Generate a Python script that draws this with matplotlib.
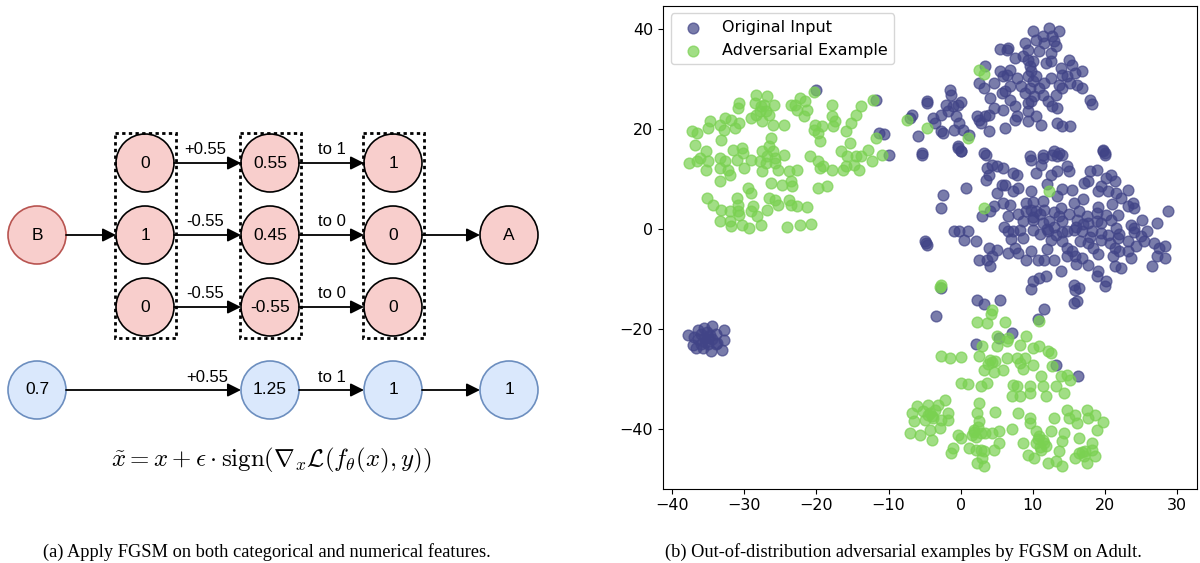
"""FGSM diagram (a) and t-SNE scatter of original vs adversarial samples (b)."""

import numpy as np
import matplotlib
matplotlib.use('Agg')
import matplotlib.pyplot as plt
from matplotlib.patches import Circle, Rectangle

plt.rcParams['mathtext.fontset'] = 'cm'

#####################################################################################
# Diagram values

cat_in = ['0', '1', '0']
cat_step = ['+0.55', '-0.55', '-0.55']
cat_mid = ['0.55', '0.45', '-0.55']
cat_round = ['to 1', 'to 0', 'to 0']
cat_out = ['1', '0', '0']
num_row = ['0.7', '1.25', '1', '1']
num_step = '+0.55'
num_round = 'to 1'

#####################################################################################
# Scatter values (t-SNE coordinates)

orig_top = [
    (-6.8, 22.9), (-7.0, 22.3), (-4.7, 25.6), (-4.6, 25.3), (-5.9, 18.6), (-3.8, 22.3), (-3.6, 21.3),
    (-2.7, 22.9), (-2.5, 19.3), (-2.7, 19.6), (-1.5, 27.9), (-1.3, 26.9), (-2.0, 24.9), (-1.8, 23.6),
    (-1.1, 24.6), (-0.4, 24.9), (0.0, 25.4), (-0.6, 22.6), (-0.2, 21.3), (-0.9, 19.9), (0.3, 19.9),
    (-0.4, 16.6), (0.0, 15.6), (1.2, 18.9), (-5.4, 15.3), (2.5, 29.3), (3.2, 28.3), (2.3, 22.6),
    (2.8, 21.3), (2.5, 21.9), (3.9, 19.6), (3.4, 32.6), (4.6, 29.3), (4.1, 26.3), (4.6, 24.3),
    (3.9, 22.9), (3.4, 22.6), (6.2, 20.3), (7.5, 21.9), (7.8, 22.6), (5.5, 36.1), (6.6, 36.3),
    (6.4, 35.9), (5.5, 31.6), (5.9, 30.6), (6.4, 30.9), (6.8, 31.9), (5.7, 27.3), (6.2, 27.6),
    (6.8, 28.6), (6.8, 25.9), (7.5, 24.6), (5.9, 23.9), (7.8, 30.3), (7.5, 34.3), (8.7, 34.6),
    (8.9, 37.3), (9.3, 35.9), (10.0, 39.6), (10.5, 37.9), (11.4, 38.6), (11.6, 37.3), (12.3, 40.3),
    (12.7, 38.6), (13.6, 39.6), (13.2, 36.6), (12.5, 35.3), (12.9, 37.6), (10.9, 35.6), (9.6, 32.6),
    (9.8, 31.6), (9.3, 30.6), (10.0, 29.6), (10.5, 30.6), (8.4, 28.6), (8.9, 27.3), (9.6, 28.3),
    (10.9, 28.3), (11.6, 29.3), (11.4, 26.9), (12.1, 25.6), (12.7, 24.6), (13.4, 24.3), (13.2, 26.9),
    (12.5, 30.3), (13.6, 28.9), (14.1, 28.3), (13.9, 32.3), (15.0, 33.9), (15.5, 32.9), (15.9, 31.3),
    (16.8, 31.6), (14.8, 30.6), (15.2, 29.3), (16.1, 28.9), (16.8, 28.3), (14.1, 30.9), (11.8, 33.3),
    (12.5, 33.6), (9.3, 25.3), (9.8, 25.6), (10.2, 26.6), (9.3, 23.6), (10.5, 22.6), (11.2, 20.9),
    (9.3, 21.6), (13.4, 21.3), (14.1, 20.6), (15.2, 20.6), (17.9, 25.9), (18.2, 25.1), (10.0, 33.6),
    (9.3, 33.9), (-20.1, 27.8), (-11.8, 25.9), (-11.3, 19.3), (-10.7, 19.1), (-10.0, 14.9),
]

orig_right = [
    (3.2, 15.3), (9.6, 14.6), (11.4, 14.9), (13.0, 15.6), (13.6, 15.3), (19.8, 15.9), (20.0, 15.3),
    (-5.4, 14.9), (-0.4, 16.3), (0.0, 15.6), (3.5, 14.9), (3.7, 12.3), (4.4, 12.9), (5.0, 12.6),
    (5.9, 12.3), (3.5, 9.9), (3.9, 10.9), (7.3, 11.3), (7.8, 10.9), (9.8, 13.9), (11.4, 14.3),
    (11.2, 12.9), (10.5, 11.3), (12.7, 14.9), (13.4, 14.6), (14.1, 14.9), (13.4, 11.6), (14.8, 12.6),
    (15.0, 11.6), (12.5, 10.9), (19.8, 15.6), (20.0, 14.9), (0.7, 8.3), (-2.5, 6.9), (-2.7, 4.3),
    (5.0, 7.3), (5.7, 8.9), (6.2, 8.9), (7.3, 7.6), (8.0, 8.3), (9.8, 7.6), (13.4, 6.6), (4.6, 4.6),
    (4.1, 3.6), (3.0, 2.6), (5.9, 5.3), (6.9, 4.9), (6.6, 2.6), (9.1, 5.3), (9.8, 3.9), (9.1, 3.6),
    (11.4, 5.6), (11.6, 3.9), (10.5, 3.6), (13.9, 4.3), (13.6, 2.6), (15.5, 7.9), (15.7, 5.3),
    (16.4, 3.6), (17.1, 9.3), (17.7, 9.6), (18.0, 11.6), (18.9, 11.9), (19.5, 8.6), (20.2, 10.3),
    (20.9, 10.9), (21.4, 9.6), (21.6, 7.3), (20.5, 7.6), (19.1, 7.6), (23.2, 7.9), (22.3, 6.3),
    (23.9, 5.3), (24.1, 4.3), (23.2, 4.6), (21.8, 2.9), (20.2, 2.9), (18.9, 3.3), (17.5, 2.6),
    (16.1, 1.9), (17.7, 1.3), (18.9, 1.6), (19.5, 1.3), (20.9, 1.9), (21.6, 0.3), (23.6, 0.9),
    (24.1, 0.3), (25.2, 1.9), (27.3, 1.3), (28.8, 3.6), (25.9, -0.4), (25.0, -1.4), (23.2, -2.4),
    (21.8, -1.7), (20.5, -1.1), (19.5, -0.7), (18.2, -0.4), (16.8, -0.4), (15.7, -0.1), (14.8, -0.4),
    (14.1, 1.6), (12.3, 1.6), (11.4, 1.3), (10.0, 1.9), (8.7, 1.6), (8.2, -0.1), (7.3, -0.4),
    (6.6, -0.4), (8.7, -1.7), (10.0, -0.1), (12.1, -0.4), (12.5, -2.1), (13.2, -1.1), (14.1, -2.4),
    (14.8, -3.7), (15.5, -4.4), (16.6, -2.4), (17.7, -2.7), (18.4, -3.7), (19.5, -2.1), (20.7, -2.7),
    (21.4, -3.7), (21.1, -5.4), (22.0, -4.4), (23.2, -4.4), (24.3, -3.4), (25.4, -2.4), (26.8, -2.7),
    (27.5, -3.7), (28.4, -3.4), (27.3, -5.4), (28.4, -5.7), (26.6, -7.4), (23.6, -5.7), (22.3, -7.7),
    (21.4, -7.4), (19.1, -8.4), (20.2, -10.4), (18.9, -9.4), (17.7, -7.1), (16.8, -5.7), (15.9, -5.4),
    (14.8, -5.4), (13.9, -8.4), (13.0, -6.1), (11.6, -6.1), (10.7, -6.1), (9.8, -4.4), (9.1, -6.1),
    (8.0, -4.7), (7.5, -3.7), (6.6, -4.7), (5.0, -4.1), (3.9, -3.7), (4.4, -5.4), (3.7, -6.1),
    (4.1, -7.4), (2.5, -6.1), (-0.9, -0.4), (-0.2, -0.4), (1.0, -0.4), (0.5, -2.1), (2.1, -2.4),
    (-4.9, -2.4), (-4.7, -3.1), (-4.8, -2.7), (10.0, -10.4), (10.9, -9.7), (11.8, -9.4), (15.7, -11.1),
    (16.4, -11.7), (12.0, 0.0), (13.0, 0.5), (14.0, -0.5), (11.0, -1.0), (10.0, 2.5), (16.0, 0.5),
    (17.0, 1.0), (18.0, -1.5), (15.0, 3.0), (19.0, 4.5), (21.0, 5.0), (17.0, 6.0), (14.0, 8.0),
    (12.0, 9.0), (10.0, 5.5), (8.0, 3.0), (6.0, 0.5), (7.0, -2.0), (12.0, -4.0), (16.0, -7.0),
    (19.0, -5.0), (22.0, -1.0), (24.0, -0.5), (11.0, 3.0), (13.0, 3.5),
]

orig_low = [
    (2.3, -14.1), (3.3, -14.9), (5.4, -14.2), (-3.4, -17.3), (11.6, -15.9), (10.7, -17.9),
    (7.1, -20.7), (2.1, -22.9), (5.3, -21.7), (13.2, -27.2), (16.3, -29.4), (9.8, -11.9),
    (15.9, -12.1), (16.1, -14.4), (15.7, -14.7), (20.0, -11.4), (-2.7, -11.7),
]

orig_left = [
    (-37.9, -21.1), (-37.2, -23.1), (-36.5, -20.1), (-35.6, -19.7), (-34.5, -19.4), (-32.9, -20.1),
    (-32.9, -22.1), (-33.1, -24.1), (-34.7, -24.4), (-35.8, -23.7), (-36.7, -23.7), (-36.0, -21.0),
    (-35.0, -21.5), (-35.5, -22.5), (-34.5, -22.0), (-36.5, -22.0), (-34.0, -21.0), (-35.0, -23.0),
    (-36.0, -23.0), (-37.0, -21.5), (-34.0, -23.0), (-35.2, -20.5), (-33.8, -22.8), (-35.5, -21.8),
    (-34.8, -21.2),
]

adv_top = [
    (-28.4, 26.9), (-26.8, 26.6), (-30.7, 25.3), (-30.9, 24.3), (-28.6, 25.3), (-27.7, 24.6),
    (-27.3, 24.9), (-25.9, 24.9), (-27.9, 23.6), (-27.0, 23.6), (-28.4, 22.9), (-26.6, 22.9),
    (-29.1, 22.3), (-27.5, 21.6), (-26.1, 20.9), (-24.5, 20.9), (-34.8, 21.6), (-32.7, 22.3),
    (-31.8, 21.9), (-30.7, 21.3), (-33.4, 20.9), (-32.9, 19.9), (-31.3, 20.3), (-37.3, 19.6),
    (-36.6, 19.3), (-35.0, 20.3), (-36.8, 16.9), (-33.2, 17.9), (-26.3, 18.3), (-26.6, 16.6),
    (-31.6, 15.9), (-30.4, 16.3), (-30.2, 15.3), (-27.5, 15.6), (-26.1, 15.6), (-26.8, 14.6),
    (-25.7, 14.3), (-24.5, 14.9), (-36.1, 14.3), (-36.6, 13.6), (-35.4, 15.6), (-35.0, 13.6),
    (-37.7, 13.3), (-33.4, 14.3), (-32.7, 13.6), (-33.4, 12.3), (-32.3, 11.9), (-32.0, 10.9),
    (-35.4, 11.9), (-31.1, 13.9), (-29.1, 13.9), (-30.0, 12.3), (-27.9, 13.6), (-27.0, 13.3),
    (-25.7, 13.3), (-27.5, 11.6), (-25.4, 11.9), (-23.8, 11.6), (-22.7, 11.9), (-33.4, 9.6),
    (-26.3, 9.3), (-24.8, 8.9), (-23.6, 9.6), (-23.4, 8.6), (-29.5, 8.3), (-29.1, 7.3), (-19.8, 8.3),
    (-18.6, 8.6), (-23.8, 5.9), (-35.2, 6.3), (-34.3, 4.9), (-33.2, 3.9), (-31.1, 6.3), (-30.9, 4.9),
    (-32.0, 3.6), (-30.9, 3.6), (-28.8, 4.6), (-29.1, 3.6), (-26.8, 3.9), (-26.6, 6.3), (-25.7, 5.9),
    (-25.4, 4.9), (-23.6, 4.9), (-22.7, 4.6), (-21.3, 4.4), (-33.4, 1.6), (-32.0, 1.6), (-31.8, 0.6),
    (-30.4, 0.9), (-29.3, 0.3), (-27.7, 0.9), (-24.1, 0.4), (-22.3, 0.8), (-20.8, 1.1), (-28.2, 2.6),
    (-30.7, 2.9), (-23.6, 24.9), (-22.3, 26.3), (-21.6, 25.6), (-22.7, 23.9), (-21.3, 23.9),
    (-21.8, 22.6), (-17.9, 24.9), (-19.3, 20.6), (-17.9, 22.6), (-17.5, 21.6), (-17.7, 20.6),
    (-20.4, 19.9), (-19.8, 19.3), (-19.5, 17.7), (-15.9, 19.7), (-15.2, 21.3), (-14.5, 22.9),
    (-13.8, 24.6), (-15.4, 17.3), (-16.6, 15.6), (-15.7, 14.6), (-14.5, 14.6), (-13.8, 14.6),
    (-12.9, 15.9), (-12.3, 13.7), (-20.9, 14.6), (-19.8, 13.6), (-19.1, 12.6), (-17.9, 11.9),
    (-19.5, 12.3), (-16.3, 11.9), (-15.9, 12.6), (-14.1, 11.9), (-14.8, 12.9), (-23.0, 24.8),
    (-20.2, 20.9), (-20.3, 27.5), (-12.1, 25.8), (-11.8, 18.3), (-10.9, 14.8),
]

adv_stray = [
    (-7.4, 21.9), (-4.7, 20.3), (1.0, 18.3), (2.5, 31.9), (3.3, 31.1), (12.3, 7.6), (3.2, 4.3),
    (-2.7, -11.1), (-2.9, -11.5),
]

adv_bottom = [
    (4.4, -16.1), (4.2, -16.9), (2.3, -18.6), (3.7, -18.7), (6.2, -18.6), (10.9, -18.4), (5.0, -21.4),
    (6.6, -21.7), (6.4, -22.4), (9.1, -21.4), (3.0, -23.4), (5.0, -23.4), (8.2, -23.1), (10.0, -23.7),
    (10.9, -23.4), (12.1, -24.4), (12.5, -24.7), (-2.7, -25.3), (-1.5, -25.7), (0.0, -25.5),
    (2.5, -25.4), (4.1, -26.1), (4.8, -26.4), (6.4, -25.7), (7.8, -25.7), (8.9, -25.7), (8.2, -26.7),
    (10.0, -27.1), (12.7, -27.4), (3.2, -28.1), (4.6, -28.6), (5.9, -28.1), (8.7, -27.9),
    (11.2, -29.3), (13.9, -29.4), (14.8, -29.1), (15.2, -30.1), (0.0, -30.7), (1.0, -30.9),
    (2.8, -31.3), (3.7, -30.7), (7.3, -31.1), (7.8, -31.4), (9.6, -31.4), (11.4, -31.4),
    (13.2, -31.4), (14.3, -32.7), (7.1, -33.4), (8.2, -33.4), (9.6, -32.7), (11.8, -33.4),
    (-6.8, -36.7), (-6.1, -35.4), (-4.5, -35.1), (-3.6, -36.1), (-3.1, -35.1), (-2.2, -34.1),
    (-4.0, -37.4), (-4.9, -38.1), (-2.7, -38.1), (-1.8, -36.7), (-6.5, -38.4), (-7.0, -40.7),
    (-5.6, -41.1), (-4.3, -40.1), (-4.0, -42.1), (-2.9, -39.7), (-1.8, -38.1), (-4.2, -36.8),
    (-3.8, -37.8), (-4.5, -37.2), (-5.2, -36.4), (2.5, -34.7), (2.3, -36.7), (2.5, -38.4),
    (1.9, -40.1), (1.6, -41.1), (2.8, -40.7), (3.4, -40.7), (-0.4, -41.1), (0.0, -41.7),
    (1.2, -43.7), (2.1, -44.1), (-1.1, -43.7), (-1.3, -44.7), (2.8, -44.1), (3.0, -45.7),
    (2.3, -46.7), (3.2, -47.4), (4.4, -40.7), (5.3, -40.4), (5.3, -42.7), (4.6, -44.1), (3.2, -44.4),
    (4.8, -36.6), (7.1, -39.9), (1.8, -40.5), (2.2, -41.5), (2.4, -39.6), (9.6, -37.7), (9.6, -38.7),
    (10.5, -40.4), (10.9, -41.4), (11.4, -42.1), (10.5, -42.7), (11.8, -43.4), (11.2, -44.1),
    (8.7, -42.7), (9.3, -45.1), (10.2, -45.7), (12.1, -46.7), (13.2, -46.4), (14.1, -47.4),
    (13.7, -44.4), (14.1, -42.4), (14.3, -40.7), (12.5, -40.4), (12.9, -37.7), (14.8, -36.1),
    (15.0, -37.7), (15.9, -37.1), (16.4, -41.7), (16.1, -38.7), (17.5, -36.1), (17.7, -37.7),
    (18.6, -37.1), (19.8, -38.6), (18.9, -40.1), (18.2, -42.7), (18.2, -44.1), (16.4, -44.7),
    (17.1, -45.4), (15.9, -45.7), (17.5, -46.7), (18.6, -45.4), (8.0, -36.7), (10.8, -42.0),
    (11.5, -42.8), (11.0, -43.5), (16.8, -44.5), (17.3, -44.3), (4.3, -26.5), (3.8, -27.0),
]

#####################################################################################

RED_FILL, RED_EDGE = '#f8cecc', '#b85450'
BLUE_FILL, BLUE_EDGE = '#dae8fc', '#6c8ebf'
NAVY, GREEN = '#414487', '#7ad151'
R = 29

fig = plt.figure(figsize=(12, 5.63), dpi=100)

# Left panel drawn in pixel coordinates
ax_d = fig.add_axes([0, 0, 1, 1])
ax_d.set_xlim(0, 1200)
ax_d.set_ylim(563, 0)
ax_d.axis('off')


def node(x, y, label, face, edge):
    ax_d.add_patch(Circle((x, y), R, facecolor=face, edgecolor=edge, lw=1.2, zorder=3))
    ax_d.text(x, y, label, ha='center', va='center', fontsize=12.5,
              family='Liberation Sans', zorder=4)


def arrow(x0, x1, y):
    ax_d.annotate('', xy=(x1, y), xytext=(x0, y),
                  arrowprops=dict(arrowstyle='-|>', color='black', lw=1.3,
                                  mutation_scale=20, shrinkA=0, shrinkB=0))


def edge_label(x, y, label):
    ax_d.text(x, y, label, ha='center', va='center', fontsize=12, family='Liberation Sans')


col_x = [145, 270, 393]
row_y = [163, 235, 307]
x_b, x_a = 37, 509
y_num = 390

# Categorical feature
node(x_b, row_y[1], 'B', RED_FILL, RED_EDGE)
for i, y in enumerate(row_y):
    node(col_x[0], y, cat_in[i], RED_FILL, 'black')
    node(col_x[1], y, cat_mid[i], RED_FILL, 'black')
    node(col_x[2], y, cat_out[i], RED_FILL, 'black')
    arrow(col_x[0] + R, col_x[1] - R, y)
    arrow(col_x[1] + R, col_x[2] - R, y)
    edge_label((col_x[0] + col_x[1]) / 2 - 2, y - 14, cat_step[i])
    edge_label((col_x[1] + col_x[2]) / 2, y - 14, cat_round[i])
node(x_a, row_y[1], 'A', RED_FILL, 'black')
arrow(x_b + R, col_x[0] - R, row_y[1])
arrow(col_x[2] + R, x_a - R, row_y[1])

for cx in col_x:
    ax_d.add_patch(Rectangle((cx - R - 1.5, row_y[0] - R - 1.5), 2 * R + 3,
                             row_y[-1] - row_y[0] + 2 * R + 3, fill=False,
                             ls=(0, (1.2, 1.2)), lw=2.0, edgecolor='black', zorder=5))

# Numerical feature
num_x = [x_b, col_x[1], col_x[2], x_a]
for x, label in zip(num_x, num_row):
    node(x, y_num, label, BLUE_FILL, BLUE_EDGE)
for x0, x1 in zip(num_x[:-1], num_x[1:]):
    arrow(x0 + R, x1 - R, y_num)
edge_label(207, y_num - 13, num_step)
edge_label((col_x[1] + col_x[2]) / 2, y_num - 13, num_round)

ax_d.text(271, 460, r'$\tilde{x}=x+\epsilon\cdot\mathrm{sign}(\nabla_x\mathcal{L}(f_\theta(x),y))$',
          ha='center', va='center', fontsize=17.9)

ax_d.text(267, 552, '(a) Apply FGSM on both categorical and numerical features.',
          ha='center', va='center', fontsize=13.2, family='Liberation Serif')
ax_d.text(903, 552, '(b) Out-of-distribution adversarial examples by FGSM on Adult.',
          ha='center', va='center', fontsize=13.2, family='Liberation Serif')

# Right panel: scatter
orig = np.array(orig_top + orig_right + orig_low + orig_left)
adv = np.array(adv_top + adv_stray + adv_bottom)

ax = fig.add_axes([663 / 1200, 1 - 488.5 / 563, 534 / 1200, 483 / 563])
ax.scatter(orig[:, 0], orig[:, 1], s=60, color=NAVY, alpha=0.7, label='Original Input')
ax.scatter(adv[:, 0], adv[:, 1], s=60, color=GREEN, alpha=0.7, label='Adversarial Example')

ax.set_xlim(-41.3, 32.8)
ax.set_ylim(-51.9, 44.7)
ax.set_xticks(range(-40, 31, 10))
ax.set_yticks(range(-40, 41, 20))
ax.tick_params(labelsize=11.5)
ax.legend(loc='upper left', fontsize=11.5, scatterpoints=1)

plt.savefig('out.png', dpi=100)
